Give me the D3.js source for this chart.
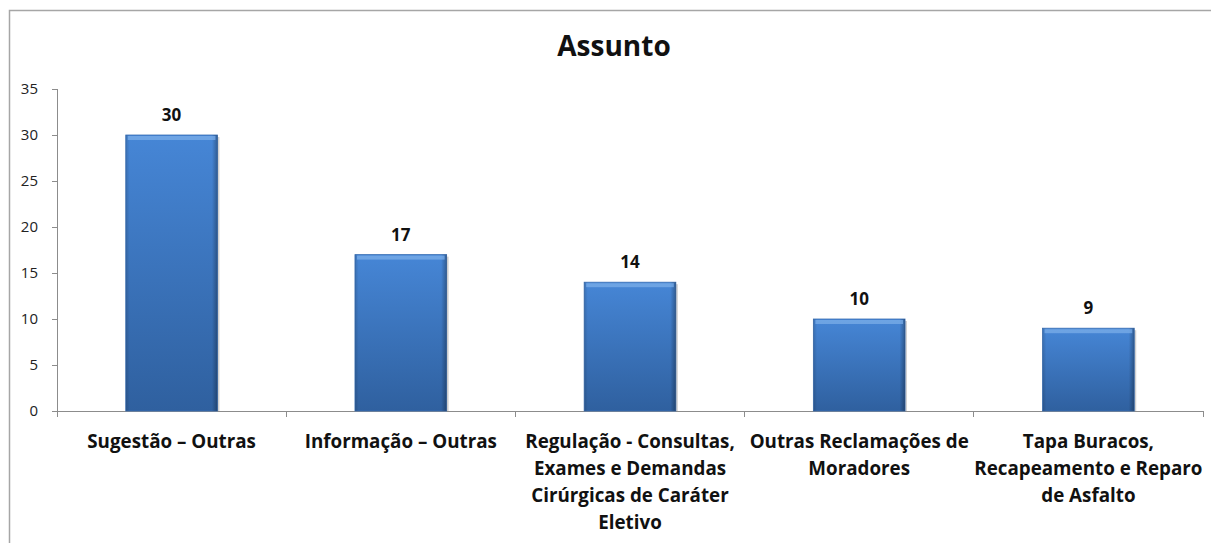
<!DOCTYPE html>
<html lang="pt-BR">
<head>
    <meta charset="UTF-8">
    <title>Assunto</title>
    <script src="https://d3js.org/d3.v7.min.js"></script>
    <style>
        body { margin: 0; background: #fff; }
        .axis path, .axis line { stroke: #8c8c8c; shape-rendering: crispEdges; }
        .y-axis text { font-family: "Open Sans", Lato, sans-serif; font-size: 15px; fill: #222; }
        .cat-label { font-family: "Open Sans", Lato, sans-serif; font-size: 18.8px; font-weight: bold; fill: #111; }
        .value-label { font-family: "Open Sans", Lato, sans-serif; font-size: 17px; font-weight: bold; fill: #111; }
    </style>
</head>
<body>
<svg width="1211" height="543"></svg>
<script>
    // dados do gráfico
    const categorias = [
        "Sugestão – Outras",
        "Informação – Outras",
        "Regulação - Consultas,\nExames e Demandas\nCirúrgicas de Caráter\nEletivo",
        "Outras Reclamações de\nMoradores",
        "Tapa Buracos,\nRecapeamento e Reparo\nde Asfalto"
    ];
    const valores = [30, 17, 14, 10, 9];
    const yTicks = [0, 5, 10, 15, 20, 25, 30, 35];

    const svg = d3.select("svg");
    const margin = {top: 89, left: 57, right: 8, bottom: 132};
    const width = 1211 - margin.left - margin.right,
          height = 543 - margin.top - margin.bottom;

    // moldura do gráfico
    svg.append("rect")
        .attr("x", 9.5).attr("y", 10.5)
        .attr("width", 1240).attr("height", 600)
        .attr("fill", "none")
        .attr("stroke", "#a6a6a6")
        .attr("stroke-width", 1.5);

    svg.append("text")
        .attr("x", 614).attr("y", 56)
        .attr("text-anchor", "middle")
        .style("font-family", "'Open Sans', Lato, sans-serif")
        .style("font-size", "28px")
        .style("font-weight", "bold")
        .style("fill", "#111")
        .text("Assunto");

    const defs = svg.append("defs");
    const grad = defs.append("linearGradient")
        .attr("id", "barGrad").attr("x1", 0).attr("y1", 0).attr("x2", 0).attr("y2", 1);
    grad.append("stop").attr("offset", "0%").attr("stop-color", "#4686d6");
    grad.append("stop").attr("offset", "100%").attr("stop-color", "#2f609f");

    const side = defs.append("linearGradient")
        .attr("id", "sideGrad").attr("x1", 0).attr("y1", 0).attr("x2", 1).attr("y2", 0);
    side.append("stop").attr("offset", "0%").attr("stop-color", "#000").attr("stop-opacity", 0.15);
    side.append("stop").attr("offset", "4%").attr("stop-color", "#000").attr("stop-opacity", 0);
    side.append("stop").attr("offset", "94%").attr("stop-color", "#000").attr("stop-opacity", 0);
    side.append("stop").attr("offset", "100%").attr("stop-color", "#000").attr("stop-opacity", 0.3);

    const g = svg.append("g").attr("transform", `translate(${margin.left},${margin.top})`);

    const x = d3.scaleBand().domain(categorias).range([0, width]).padding(0);
    const y = d3.scaleLinear().domain([0, 35]).range([height, 0]);
    const barW = x.bandwidth() * 0.4;

    // eixo Y
    g.append("g")
        .attr("class", "axis y-axis")
        .call(d3.axisLeft(y).tickValues(yTicks).tickSize(5).tickPadding(14).tickSizeOuter(0))
        .call(a => a.select(".domain").attr("d", `M0,0V${height}`));

    // eixo X
    const xa = g.append("g")
        .attr("class", "axis x-axis")
        .attr("transform", `translate(0,${height})`);
    xa.append("line").attr("x1", 0).attr("x2", width).attr("y1", 0).attr("y2", 0);
    xa.selectAll(".tk")
        .data(d3.range(categorias.length + 1))
        .enter().append("line")
        .attr("x1", i => i * x.step()).attr("x2", i => i * x.step())
        .attr("y1", 0).attr("y2", 6);

    // barras
    const bars = g.selectAll(".bar")
        .data(valores)
        .enter().append("g")
        .attr("transform", (d, i) => `translate(${x(categorias[i]) + (x.bandwidth() - barW) / 2},0)`);

    bars.append("rect")
        .attr("x", 2).attr("y", d => y(d) + 2)
        .attr("width", barW).attr("height", d => height - y(d) - 2)
        .attr("fill", "#000").attr("opacity", 0.18);
    bars.append("rect")
        .attr("y", d => y(d))
        .attr("width", barW).attr("height", d => height - y(d))
        .attr("fill", "url(#barGrad)")
        .attr("stroke", "#3a6fb3").attr("stroke-width", 0.8);
    bars.append("rect")
        .attr("y", d => y(d))
        .attr("width", barW).attr("height", d => height - y(d))
        .attr("fill", "url(#sideGrad)");
    bars.append("rect")
        .attr("x", 2).attr("y", d => y(d) + 1)
        .attr("width", barW - 4).attr("height", 4)
        .attr("fill", "#7fb0ea").attr("opacity", 0.7);

    bars.append("text")
        .attr("class", "value-label")
        .attr("x", barW / 2).attr("y", d => y(d) - 14)
        .attr("text-anchor", "middle")
        .text(d => d);

    // rótulos das categorias
    g.selectAll(".cat-label")
        .data(categorias)
        .enter().append("text")
        .attr("class", "cat-label")
        .attr("text-anchor", "middle")
        .attr("x", d => x(d) + x.bandwidth() / 2)
        .attr("y", height + 37)
        .each(function(d) {
            d.split("\n").forEach((l, k) => {
                d3.select(this).append("tspan")
                    .attr("x", x(d) + x.bandwidth() / 2)
                    .attr("dy", k === 0 ? 0 : 27)
                    .text(l);
            });
        });
</script>
</body>
</html>
